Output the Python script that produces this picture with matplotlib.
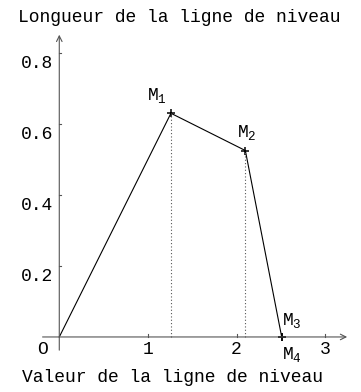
import matplotlib.pyplot as plt

# points M1..M4 of the polyline (value, length)
noms = ['M1', 'M2', 'M3', 'M4']
valeurs = [1.26, 2.10, 2.51, 2.51]
longueurs = [0.63, 0.525, 0.0, 0.0]

xticks = [1, 2, 3]
yticks = [0.2, 0.4, 0.6, 0.8]
ytick_labels = ['0.2', '0.4', '0.6', '0.8']

police = 'Liberation Mono'
plt.rcParams['font.family'] = police
plt.rcParams['mathtext.fontset'] = 'custom'
plt.rcParams['mathtext.rm'] = police
plt.rcParams['mathtext.it'] = police

fig = plt.figure(figsize=(3.61, 3.92), dpi=100)
ax = fig.add_axes([0, 0, 1, 1])
ax.set_xlim(-0.669, 3.405)
ax.set_ylim(-0.155, 0.949)
ax.axis('off')

gris = '#555555'
fs = 13
lw = 0.8

# axes with arrows
ax.annotate('', xy=(3.28, 0), xytext=(-0.22, 0),
            arrowprops=dict(arrowstyle='->', color=gris, lw=lw, mutation_scale=10))
ax.annotate('', xy=(0, 0.859), xytext=(0, -0.045),
            arrowprops=dict(arrowstyle='->', color=gris, lw=lw, mutation_scale=10))

# ticks
for t in xticks:
    ax.plot([t, t], [0, 0.008], color=gris, lw=lw)
    ax.text(t, -0.035, str(t), ha='center', va='center', fontsize=fs)
for t, lab in zip(yticks, ytick_labels):
    ax.plot([0, 0.025], [t, t], color=gris, lw=lw)
    ax.text(-0.07, t - 0.03, lab, ha='right', va='center', fontsize=fs)
ax.text(-0.19, -0.035, 'O', ha='center', va='center', fontsize=fs)

# polyline from origin
xs = [0] + valeurs
ys = [0] + longueurs
ax.plot(xs, ys, color='black', lw=lw)
ax.plot(valeurs, longueurs, '+', color='black', ms=6, mew=1.1)

# dotted projections
for x, y in zip(valeurs[:2], longueurs[:2]):
    ax.plot([x, x], [0, y], color=gris, lw=lw, ls=(0, (1, 2)))

# point labels
decalages = [(-17, 6), (-6, 6), (0, 5), (0, -6)]
alignements = ['bottom', 'bottom', 'bottom', 'top']
for nom, x, y, d, va in zip(noms, valeurs, longueurs, decalages, alignements):
    ax.annotate(r'$\mathrm{M}_{%s}$' % nom[1], xy=(x, y), xytext=d,
                textcoords='offset points', ha='left', va=va, fontsize=fs)

fig.text(18 / 361, 1 - 17 / 392, 'Longueur de la ligne de niveau',
         ha='left', va='center', fontsize=fs)
fig.text(22 / 361, 1 - 377 / 392, 'Valeur de la ligne de niveau',
         ha='left', va='center', fontsize=fs)

fig.savefig('out.png', dpi=100)
